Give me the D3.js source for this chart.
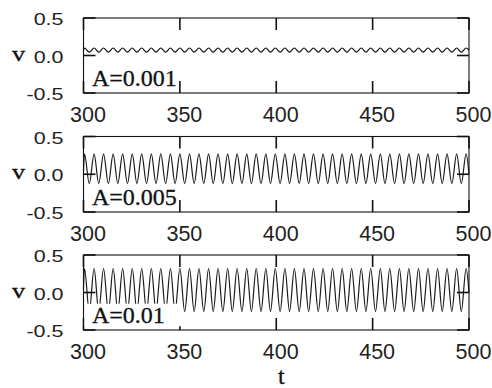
<!DOCTYPE html>
<html>
<head>
<meta charset="utf-8">
<script src="https://cdn.jsdelivr.net/npm/d3@7"></script>
<style>
  html, body { margin: 0; padding: 0; background: #fff; }
  svg { display: block; }
</style>
</head>
<body>
<svg id="chart" width="492" height="388"></svg>
<script>
// ---------------- data ----------------
const xTicks = [300, 350, 400, 450, 500];
const yTicks = [-0.5, 0.0, 0.5];
const yTickLabels = ["-0.5", "0.0", "0.5"];
const panelLabels = ["A=0.001", "A=0.005", "A=0.01"];
const xLabel = "t";
const yLabel = "v";

// times of the local maxima / minima
const peakT = [300.5,305.5,310.4,315.4,320.3,325.3,330.2,335.2,340.1,345.1,350.0,355.0,359.9,364.9,369.8,374.8,379.7,384.7,389.6,394.6,399.5,404.5,409.4,414.4,419.3,424.3,429.2,434.2,439.1,444.1,449.0,454.0,458.9,463.9,468.8,473.8,478.7,483.7,488.6,493.6,498.5];
const troughT = [303.0,307.9,312.9,317.8,322.8,327.7,332.7,337.6,342.6,347.5,352.5,357.4,362.4,367.3,372.3,377.2,382.2,387.1,392.1,397.0,402.0,406.9,411.9,416.8,421.8,426.7,431.7,436.6,441.6,446.5,451.5,456.4,461.4,466.3,471.3,476.2,481.2,486.1,491.1,496.0];

// A = 0.001
const peakV1 = [0.10,0.10,0.10,0.10,0.10,0.10,0.10,0.10,0.10,0.10,0.10,0.10,0.10,0.10,0.10,0.10,0.10,0.10,0.10,0.10,0.10,0.10,0.10,0.10,0.10,0.10,0.10,0.10,0.10,0.10,0.10,0.10,0.10,0.10,0.10,0.10,0.10,0.10,0.10,0.10,0.10];
const troughV1 = [0.045,0.045,0.045,0.045,0.045,0.045,0.045,0.045,0.045,0.045,0.045,0.045,0.045,0.045,0.045,0.045,0.045,0.045,0.045,0.045,0.045,0.045,0.045,0.045,0.045,0.045,0.045,0.045,0.045,0.045,0.045,0.045,0.045,0.045,0.045,0.045,0.045,0.045,0.045,0.045];
// A = 0.005
const peakV2 = [0.27,0.27,0.27,0.27,0.27,0.27,0.27,0.27,0.27,0.27,0.27,0.27,0.27,0.27,0.27,0.27,0.27,0.27,0.27,0.27,0.27,0.27,0.27,0.27,0.27,0.27,0.27,0.27,0.27,0.27,0.27,0.27,0.27,0.27,0.27,0.27,0.27,0.27,0.27,0.27,0.27];
const troughV2 = [-0.125,-0.125,-0.125,-0.125,-0.125,-0.125,-0.125,-0.125,-0.125,-0.125,-0.125,-0.125,-0.125,-0.125,-0.125,-0.125,-0.125,-0.125,-0.125,-0.125,-0.125,-0.125,-0.125,-0.125,-0.125,-0.125,-0.125,-0.125,-0.125,-0.125,-0.125,-0.125,-0.125,-0.125,-0.125,-0.125,-0.125,-0.125,-0.125,-0.125];
// A = 0.01
const peakV3 = [0.32,0.32,0.32,0.32,0.32,0.32,0.32,0.32,0.32,0.32,0.32,0.32,0.32,0.32,0.32,0.32,0.32,0.32,0.32,0.32,0.32,0.32,0.32,0.32,0.32,0.32,0.32,0.32,0.32,0.32,0.32,0.32,0.32,0.32,0.32,0.32,0.32,0.32,0.32,0.32,0.32];
const troughV3 = [-0.255,-0.255,-0.255,-0.255,-0.255,-0.255,-0.255,-0.255,-0.255,-0.255,-0.255,-0.255,-0.255,-0.255,-0.255,-0.255,-0.255,-0.255,-0.255,-0.255,-0.255,-0.255,-0.255,-0.255,-0.255,-0.255,-0.255,-0.255,-0.255,-0.255,-0.255,-0.255,-0.255,-0.255,-0.255,-0.255,-0.255,-0.255,-0.255,-0.255];

const startV = [0.07, 0.05, 0.05];
const endV = [0.07, 0.0, 0.0];

const seriesPeaks = [peakV1, peakV2, peakV3];
const seriesTroughs = [troughV1, troughV2, troughV3];

// ---------------- layout ----------------
const svg = d3.select("#chart");
const panels = [
  { top: 18, bottom: 93 },
  { top: 136.5, bottom: 212 },
  { top: 255, bottom: 330 }
];
const x = d3.scaleLinear().domain([300, 500]).range([83.5, 469]);
const tickLen = 12;
const sans = "'Liberation Sans', Arial, Helvetica, sans-serif";
const serif = "'Liberation Serif', 'Times New Roman', serif";

panels.forEach((p, i) => {
  const y = d3.scaleLinear().domain([-0.5, 0.5]).range([p.bottom, p.top]);
  const g = svg.append("g");

  const pts = [{ t: 300, v: startV[i] }];
  peakT.forEach((t, k) => pts.push({ t, v: seriesPeaks[i][k] }));
  troughT.forEach((t, k) => pts.push({ t, v: seriesTroughs[i][k] }));
  pts.push({ t: 500, v: endV[i] });
  pts.sort((a, b) => a.t - b.t);

  const line = d3.line()
    .x(d => x(d.t))
    .y(d => y(d.v))
    .curve(d3.curveMonotoneX);

  g.append("path")
    .datum(pts)
    .attr("d", line)
    .attr("fill", "none")
    .attr("stroke", "#1a1a1a")
    .attr("stroke-width", 1.2);

  // ticks (inward, on all four sides)
  const tk = g.append("g").attr("stroke", "#111").attr("stroke-width", 1.6);
  xTicks.forEach(t => {
    tk.append("line").attr("x1", x(t)).attr("x2", x(t)).attr("y1", p.top).attr("y2", p.top + tickLen);
    tk.append("line").attr("x1", x(t)).attr("x2", x(t)).attr("y1", p.bottom).attr("y2", p.bottom - tickLen);
  });
  yTicks.forEach(v => {
    tk.append("line").attr("x1", x(300)).attr("x2", x(300) + tickLen).attr("y1", y(v)).attr("y2", y(v));
    tk.append("line").attr("x1", x(500)).attr("x2", x(500) - tickLen).attr("y1", y(v)).attr("y2", y(v));
  });

  // opaque label box (visible in the last panel)
  if (i === 2) {
    g.append("rect")
      .attr("x", x(300) + 1)
      .attr("y", y(-0.15))
      .attr("width", x(351.2) - x(300) - 1)
      .attr("height", y(-0.45) - y(-0.15))
      .attr("fill", "#fff");
  }

  // border
  g.append("rect")
    .attr("x", x(300)).attr("y", p.top)
    .attr("width", x(500) - x(300)).attr("height", p.bottom - p.top)
    .attr("fill", "none").attr("stroke", "#111").attr("stroke-width", 1.1);

  // y tick labels
  yTicks.forEach((v, k) => {
    g.append("text")
      .attr("transform", `translate(63.5,${y(v) + 1}) scale(1,0.8)`)
      .attr("dy", "0.36em")
      .attr("text-anchor", "end")
      .attr("font-family", sans)
      .attr("font-size", 21.5)
      .attr("fill", "#222")
      .text(yTickLabels[k]);
  });

  // x tick labels
  xTicks.forEach(t => {
    g.append("text")
      .attr("x", x(t) + 4.5)
      .attr("y", p.bottom + 29)
      .attr("text-anchor", "middle")
      .attr("font-family", sans)
      .attr("font-size", 21.5)
      .attr("fill", "#222")
      .text(String(t));
  });

  // y axis label
  g.append("text")
    .attr("transform", `translate(18.5,${y(0) + 5}) scale(1.05,0.82)`)
    .attr("text-anchor", "middle")
    .attr("font-family", serif)
    .attr("font-size", 25)
    .attr("fill", "#111")
    .attr("stroke", "#111")
    .attr("stroke-width", 0.4)
    .text(yLabel);

  // panel label
  g.append("text")
    .attr("x", 92)
    .attr("y", p.bottom - 7)
    .attr("font-family", serif)
    .attr("font-size", 24)
    .attr("fill", "#111")
    .attr("stroke", "#111")
    .attr("stroke-width", 0.3)
    .text(panelLabels[i]);
});

// x axis title
svg.append("text")
  .attr("x", x(400) + 5)
  .attr("y", 384)
  .attr("text-anchor", "middle")
  .attr("font-family", serif)
  .attr("font-size", 24)
  .attr("fill", "#111")
  .attr("stroke", "#111")
  .attr("stroke-width", 0.3)
  .text(xLabel);
</script>
</body>
</html>
